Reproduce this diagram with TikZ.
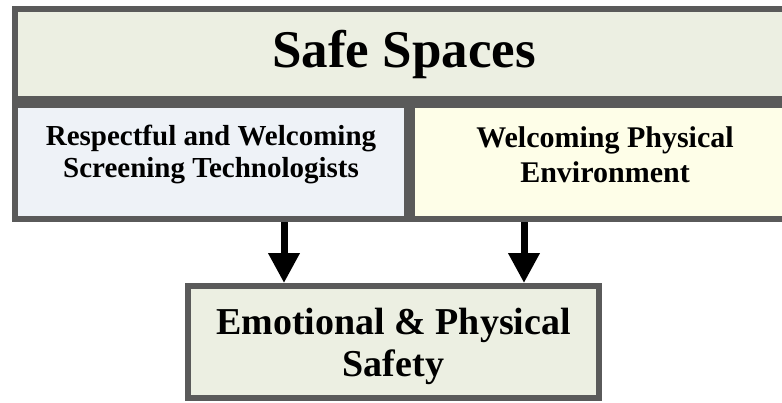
\documentclass[tikz,border=0pt]{standalone}
\usepackage{fontspec}
\setmainfont{Liberation Serif}
\usetikzlibrary{arrows.meta}
\definecolor{frame}{HTML}{5A5A5A}
\definecolor{sagefill}{HTML}{ECEFE2}
\definecolor{bluefill}{HTML}{EEF2F7}
\definecolor{creamfill}{HTML}{FEFEE8}
\begin{document}
\begin{tikzpicture}[x=1pt,y=1pt,
    box/.style={draw=frame,line width=6pt,rectangle,inner sep=0pt},
    boxtext/.style={align=center,inner sep=0pt},
    thickarrow/.style={line width=7pt,-{Triangle[width=30pt,length=30pt]}}]
    \useasboundingbox (0,0) rectangle (782,-402);
    \clip (0,0) rectangle (782,-402);
        \node[box,fill=sagefill,minimum width=778pt,minimum height=90pt] (safe) at (404,-54) {};
        \node[box,fill=bluefill,minimum width=392pt,minimum height=114pt] (staff) at (211,-162) {};
        \node[box,fill=creamfill,minimum width=386pt,minimum height=114pt] (room) at (605,-162) {};
        \node[box,fill=sagefill,minimum width=411pt,minimum height=112pt] (safety) at (393.5,-342) {};
        \node[boxtext,font=\bfseries\fontsize{53}{60}\selectfont] (safeText) at (safe.center) {Safe Spaces};
        \node[boxtext,font=\bfseries\fontsize{29}{32}\selectfont,yshift=8pt] (staffText) at (staff.center) {Respectful and Welcoming\\Screening Technologists};
        \node[boxtext,font=\bfseries\fontsize{30}{35}\selectfont,yshift=7pt] (roomText) at (room.center) {Welcoming Physical\\Environment};
        \node[boxtext,font=\bfseries\fontsize{38}{42}\selectfont,yshift=-4pt] (safetyText) at (safety.center) {Emotional \& Physical\\Safety};
        \coordinate (arrL) at (284,0);
        \coordinate (arrR) at (524,0);
        \draw[thickarrow] (staff.south -| arrL) -- (safety.north -| arrL);
        \draw[thickarrow] (room.south -| arrR) -- (safety.north -| arrR);
    \end{tikzpicture}
\end{document}
